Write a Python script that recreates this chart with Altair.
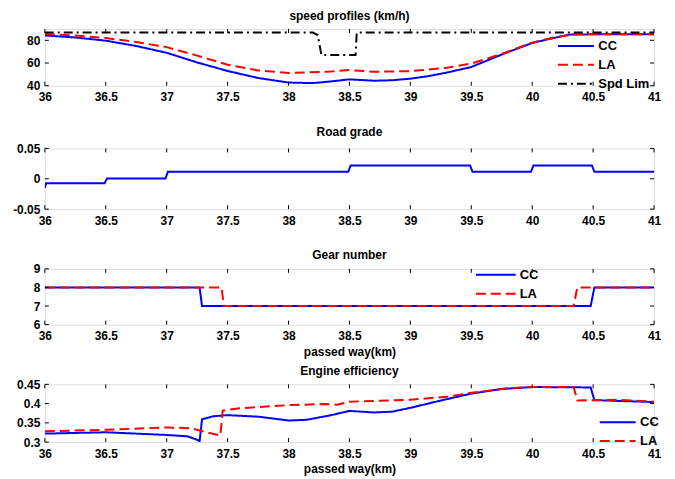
import altair as alt
import pandas as pd

FONT = "Liberation Sans"
X_TICKS = [36, 36.5, 37, 37.5, 38, 38.5, 39, 39.5, 40, 40.5, 41]

# ---------- speed profiles (km/h) ----------
SPD_CC_X = [36.0, 36.25, 36.5, 36.75, 37.0, 37.25, 37.5, 37.75, 38.0, 38.2, 38.35, 38.5, 38.7, 38.85, 39.0, 39.15, 39.3, 39.5, 39.75, 40.0, 40.2, 40.3, 40.5, 41.0]
SPD_CC_Y = [84.3, 82.5, 79.7, 75.0, 69.0, 60.5, 53.0, 46.8, 42.8, 42.3, 43.8, 45.6, 44.4, 44.8, 46.2, 48.5, 51.6, 56.5, 67.5, 77.7, 82.6, 85.0, 85.3, 85.3]
SPD_LA_X = [36.0, 36.25, 36.5, 36.75, 37.0, 37.25, 37.5, 37.75, 38.0, 38.3, 38.5, 38.7, 39.0, 39.3, 39.5, 39.75, 40.0, 40.2, 40.35, 40.5, 41.0]
SPD_LA_Y = [85.5, 84.2, 82.0, 78.5, 74.0, 66.5, 58.5, 53.5, 51.2, 52.2, 53.8, 52.3, 52.8, 55.8, 59.5, 68.0, 78.0, 83.0, 85.3, 85.3, 85.3]
SPD_LIM_X = [36.0, 38.2, 38.24, 38.27, 38.55, 38.56, 41.0]
SPD_LIM_Y = [86.8, 86.8, 84.5, 67.0, 67.0, 86.8, 86.8]

# ---------- road grade ----------
GRADE_X = [36.0, 36.01, 36.49, 36.51, 36.99, 37.01, 38.49, 38.51, 39.49, 39.51, 39.99, 40.01, 40.49, 40.51, 41.0]
GRADE_Y = [-0.015, -0.0075, -0.0075, 0.0005, 0.0005, 0.0115, 0.0115, 0.022, 0.022, 0.0115, 0.0115, 0.022, 0.022, 0.0115, 0.0115]

# ---------- gear number ----------
GEAR_CC_X = [36.0, 37.27, 37.29, 40.48, 40.51, 41.0]
GEAR_CC_Y = [8, 8, 7, 7, 8, 8]
GEAR_LA_X = [36.0, 37.45, 37.47, 40.34, 40.37, 41.0]
GEAR_LA_Y = [8, 8, 7, 7, 8, 8]

# ---------- engine efficiency ----------
EFF_CC_X = [36.0, 36.5, 37.0, 37.17, 37.25, 37.27, 37.29, 37.38, 37.5, 37.75, 38.0, 38.15, 38.35, 38.5, 38.7, 38.85, 39.0, 39.25, 39.5, 39.75, 40.0, 40.48, 40.51, 41.0]
EFF_CC_Y = [0.322, 0.3255, 0.3185, 0.315, 0.306, 0.302, 0.359, 0.367, 0.370, 0.366, 0.356, 0.358, 0.370, 0.381, 0.377, 0.379, 0.389, 0.408, 0.426, 0.438, 0.443, 0.442, 0.409, 0.404]
EFF_LA_X = [36.0, 36.5, 37.0, 37.2, 37.27, 37.44, 37.46, 37.6, 38.0, 38.3, 38.4, 38.5, 39.0, 39.3, 39.5, 39.8, 40.0, 40.34, 40.37, 40.7, 41.0]
EFF_LA_Y = [0.328, 0.332, 0.338, 0.336, 0.330, 0.317, 0.382, 0.388, 0.396, 0.399, 0.397, 0.405, 0.410, 0.418, 0.428, 0.440, 0.443, 0.443, 0.408, 0.410, 0.405]

SERIES3 = ["CC", "LA", "Spd Lim"]
COLORS3 = ["#0000ff", "#ff0000", "#000000"]
DASHES3 = [[1, 0], [10, 5], [9, 4, 2, 4]]

W = 612
LBL = "replace(format(datum.value, '.4~g'), '\u2212', '-')"


def lines_df(pairs):
    rows = []
    for name, xs, ys in pairs:
        for a, b in zip(xs, ys):
            rows.append({"x": a, "y": b, "series": name})
    return pd.DataFrame(rows)


def panel(df, title, ydom, yticks, height, xtitle, legend_pos=None, nser=2, single=False,
          sym=1300, toff=1, xtfs=12):
    xax = alt.Axis(values=X_TICKS, title=xtitle, ticks=False, domain=False, grid=False,
                   labelExpr=LBL, labelOverlap=False,
                   labelFont=FONT, labelFontSize=12, labelFontWeight="bold", labelColor="black",
                   labelPadding=6, labelFlush=False, titleFont=FONT, titleFontSize=xtfs,
                   titleFontWeight="bold", titleColor="black", titlePadding=5)
    yax = alt.Axis(values=yticks, title=None, ticks=False, domain=False, grid=False,
                   labelExpr=LBL, labelOverlap=False,
                   labelFont=FONT, labelFontSize=12, labelFontWeight="bold", labelColor="black",
                   labelPadding=5, labelFlush=False, minExtent=36)
    xsc = alt.Scale(domain=[36, 41], nice=False, zero=False)
    ysc = alt.Scale(domain=ydom, nice=False, zero=False)
    x = alt.X("x:Q", scale=xsc, axis=xax)
    y = alt.Y("y:Q", scale=ysc, axis=yax)
    base = alt.Chart(df)
    if single:
        main = base.mark_line(strokeWidth=2, color="#0000ff", clip=True).encode(x=x, y=y)
    else:
        leg = alt.Legend(title=None, orient="none", legendX=legend_pos[0], legendY=legend_pos[1],
                         symbolType="stroke", symbolSize=sym, symbolStrokeWidth=2,
                         labelFont=FONT, labelFontSize=13, labelFontWeight="bold",
                         labelColor="black", labelOffset=3, rowPadding=3, clipHeight=16,
                         padding=0)
        dom = SERIES3[:nser]
        main = base.mark_line(strokeWidth=2, clip=True).encode(
            x=x, y=y,
            color=alt.Color("series:N", scale=alt.Scale(domain=dom, range=COLORS3[:nser]), legend=leg),
            strokeDash=alt.StrokeDash("series:N", scale=alt.Scale(domain=dom, range=DASHES3[:nser]), legend=leg),
        )
    xt = pd.DataFrame({"x": X_TICKS})
    yt = pd.DataFrame({"y": yticks})
    tk = dict(color="black", strokeWidth=1)
    t1 = alt.Chart(xt).mark_rule(**tk).encode(x=x, y=alt.value(height), y2=alt.value(height - 4))
    t2 = alt.Chart(xt).mark_rule(**tk).encode(x=x, y=alt.value(0), y2=alt.value(4))
    t3 = alt.Chart(yt).mark_rule(**tk).encode(y=y, x=alt.value(0), x2=alt.value(4))
    t4 = alt.Chart(yt).mark_rule(**tk).encode(y=y, x=alt.value(W), x2=alt.value(W - 4))
    return alt.layer(main, t1, t2, t3, t4).properties(
        width=W, height=height,
        title=alt.TitleParams(title, font=FONT, fontSize=12, fontWeight="bold", color="black",
                              anchor="middle", offset=toff),
    )


speed_df = lines_df([("CC", SPD_CC_X, SPD_CC_Y), ("LA", SPD_LA_X, SPD_LA_Y),
                     ("Spd Lim", SPD_LIM_X, SPD_LIM_Y)])
grade_df = lines_df([("grade", GRADE_X, GRADE_Y)])
gear_df = lines_df([("CC", GEAR_CC_X, GEAR_CC_Y), ("LA", GEAR_LA_X, GEAR_LA_Y)])
eff_df = lines_df([("CC", EFF_CC_X, EFF_CC_Y), ("LA", EFF_LA_X, EFF_LA_Y)])

p1 = panel(speed_df, "speed profiles (km/h)", [40, 90], [40, 60, 80], 57, " ", (514, 9), nser=3, toff=6)
p2 = panel(grade_df, "Road grade", [-0.05, 0.05], [-0.05, 0, 0.05], 61, " ", single=True, toff=3, xtfs=10)
p3 = panel(gear_df, "Gear number", [6, 9], [6, 7, 8, 9], 56, "passed way(km)", (432, -2), nser=2, sym=1600, toff=1)
p4 = panel(eff_df, "Engine efficiency", [0.3, 0.45], [0.3, 0.35, 0.4, 0.45], 58, "passed way(km)", (556, 30), nser=2, toff=0)

chart = alt.vconcat(p1, p2, p3, p4, spacing=6).resolve_scale(
    y="independent", color="independent", strokeDash="independent"
).resolve_legend(color="independent", strokeDash="independent").configure_view(
    stroke="black", strokeWidth=1
).configure(background="white", padding={"left": 0, "top": 0, "right": 5, "bottom": 0})

chart.save("out.html", embed_options={"renderer": "svg", "actions": False})
